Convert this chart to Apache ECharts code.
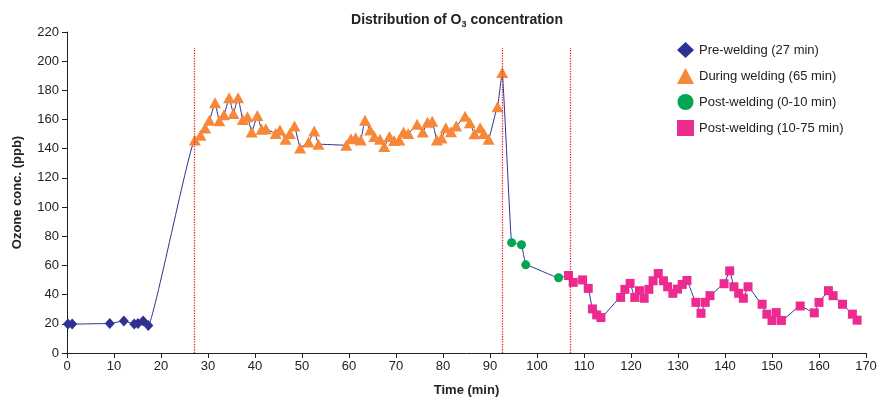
<!DOCTYPE html>
<html>
<head>
<meta charset="utf-8">
<script src="https://cdn.jsdelivr.net/npm/echarts@6/dist/echarts.min.js"></script>
<style>
  html, body { margin: 0; padding: 0; background: #fff; }
  #chart { width: 885px; height: 402px; }
</style>
</head>
<body>
<div id="chart"></div>
<script>
// pre-welding (27 min)
const preTime = [0.2, 1.1, 9.1, 12.1, 14.3, 15.1, 16.2, 17.3];
const preO3   = [19.8, 19.8, 20.2, 22.0, 19.8, 20.2, 22.0, 18.9];

// during welding (65 min)
const duringTime = [27.2, 28.4, 29.4, 30.3, 31.5, 32.4, 33.4, 34.5, 35.4, 36.4, 37.4, 38.4, 39.3, 40.5,
  41.4, 42.3, 44.4, 45.3, 46.5, 47.4, 48.4, 49.6, 51.4, 52.6, 53.5, 59.4, 60.4, 61.4, 62.5, 63.4,
  64.5, 65.4, 66.6, 67.5, 68.6, 69.6, 70.7, 71.6, 72.6, 74.5, 75.7, 76.7, 77.7, 78.7, 79.7, 80.6,
  81.7, 82.8, 84.7, 85.7, 86.7, 87.9, 88.7, 89.7, 91.6, 92.6];
const duringO3   = [146.0, 149.2, 154.2, 159.6, 171.5, 159.2, 163.3, 174.9, 164.2, 174.9, 160.1, 161.9, 151.4, 162.8,
  153.3, 153.7, 150.5, 152.8, 146.5, 150.5, 155.5, 140.5, 144.6, 152.1, 143.1, 142.4, 146.9, 147.6, 146.0, 159.6,
  152.8, 148.3, 146.5, 141.5, 148.3, 145.6, 146.0, 151.4, 150.5, 156.7, 151.4, 158.2, 158.9, 146.0, 147.3, 154.4,
  151.7, 155.5, 162.3, 157.8, 150.3, 154.4, 150.5, 146.5, 168.7, 192.3];

// post-welding (0-10 min)
const post1Time = [94.6, 96.7, 97.6, 104.6];
const post1O3   = [75.6, 74.2, 60.4, 51.6];

// post-welding (10-75 min)
const post2Time = [106.7, 107.7, 109.7, 110.9, 111.8, 112.7, 113.6, 117.8, 118.7, 119.8, 120.8, 121.8, 122.8,
  123.8, 124.7, 125.8, 126.9, 127.8, 128.9, 129.9, 130.9, 131.9, 133.8, 134.9, 135.8, 136.8, 139.8, 141.0,
  141.9, 142.9, 143.9, 144.9, 147.9, 148.9, 150.0, 150.9, 152.0, 156.0, 159.0, 160.0, 162.0, 163.0, 165.0,
  167.1, 168.1];
const post2O3   = [53.1, 48.4, 50.1, 44.3, 30.2, 26.1, 24.3, 38.1, 43.6, 47.7, 38.1, 42.7, 37.5,
  43.6, 49.5, 54.5, 49.5, 45.4, 40.9, 43.8, 47.0, 49.7, 34.7, 27.2, 34.7, 39.3, 47.5, 56.3,
  45.4, 40.9, 37.5, 45.4, 33.4, 26.6, 22.3, 27.7, 22.3, 32.2, 27.5, 34.7, 42.7, 39.3, 33.4,
  26.6, 22.5];

// phase boundaries (min)
const phaseLines = [27, 92.5, 107];

const seriesNames = ['Pre-welding (27 min)', 'During welding (65 min)', 'Post-welding (0-10 min)', 'Post-welding (10-75 min)'];

const zip = (xs, ys) => xs.map((x, i) => [x, ys[i]]);

const preData = zip(preTime, preO3);
const duringData = zip(duringTime, duringO3);
const post1Data = zip(post1Time, post1O3);
const post2Data = zip(post2Time, post2O3);
const allData = preData.concat(duringData, post1Data, post2Data);

const lineColor = '#2E3192';
const font = 'Liberation Sans, Arial, sans-serif';

const chart = echarts.init(document.getElementById('chart'));
chart.setOption({
  animation: false,
  textStyle: { fontFamily: font },
  title: {
    text: '{t|Distribution of O}{s|3}{t| concentration}',
    left: 452,
    textAlign: 'center',
    top: 7,
    textStyle: {
      rich: {
        t: { fontSize: 14, fontWeight: 'bold', color: '#222', fontFamily: font },
        s: { fontSize: 9, fontWeight: 'bold', color: '#222', fontFamily: font, verticalAlign: 'bottom', padding: [8, 0, 0, 0] }
      }
    }
  },
  legend: {
    orient: 'vertical',
    left: 672,
    top: 37,
    itemGap: 10,
    itemWidth: 17,
    itemHeight: 16,
    data: seriesNames,
    textStyle: { fontSize: 13, color: '#222', fontFamily: font }
  },
  grid: { left: 67, right: 19, top: 32, bottom: 47 },
  xAxis: {
    type: 'value',
    min: 0, max: 170, interval: 10,
    name: 'Time (min)',
    nameLocation: 'middle',
    nameGap: 31,
    nameTextStyle: { fontSize: 13, fontWeight: 'bold', color: '#222' },
    axisLine: { lineStyle: { color: '#222' } },
    axisTick: { show: true, length: 5, lineStyle: { color: '#222' } },
    axisLabel: { fontSize: 13, color: '#222', margin: 7 },
    splitLine: { show: false }
  },
  yAxis: {
    type: 'value',
    min: 0, max: 220, interval: 20,
    name: 'Ozone conc. (ppb)',
    nameLocation: 'middle',
    nameRotate: 90,
    nameGap: 43,
    nameTextStyle: { fontSize: 13, fontWeight: 'bold', color: '#222' },
    axisLine: { show: true, lineStyle: { color: '#222' } },
    axisTick: { show: true, length: 5, lineStyle: { color: '#222' } },
    axisLabel: { fontSize: 13, color: '#222', margin: 8 },
    splitLine: { show: false }
  },
  series: [
    {
      type: 'line',
      data: allData,
      showSymbol: false,
      smooth: 0.1,
      smoothMonotone: 'x',
      lineStyle: { color: lineColor, width: 1 },
      z: 1,
      markLine: {
        silent: true,
        symbol: 'none',
        label: { show: false },
        lineStyle: { color: '#E8262B', type: 'dotted', width: 1.3, opacity: 1 },
        data: phaseLines.map(t => [{ coord: [t, 0] }, { coord: [t, 209] }])
      }
    },
    {
      name: seriesNames[0], type: 'scatter', data: preData,
      symbol: 'diamond', symbolSize: [10, 11],
      itemStyle: { color: '#2E3192', opacity: 1 }, z: 3
    },
    {
      name: seriesNames[1], type: 'scatter', data: duringData,
      symbol: 'triangle', symbolSize: [12, 11],
      itemStyle: { color: '#F7883A', opacity: 1 }, z: 3
    },
    {
      name: seriesNames[2], type: 'scatter', data: post1Data,
      symbol: 'circle', symbolSize: 9,
      itemStyle: { color: '#00A651', opacity: 1 }, z: 3
    },
    {
      name: seriesNames[3], type: 'scatter', data: post2Data,
      symbol: 'rect', symbolSize: 9,
      itemStyle: { color: '#EC2A8F', opacity: 1 }, z: 3
    }
  ]
});
</script>
</body>
</html>
